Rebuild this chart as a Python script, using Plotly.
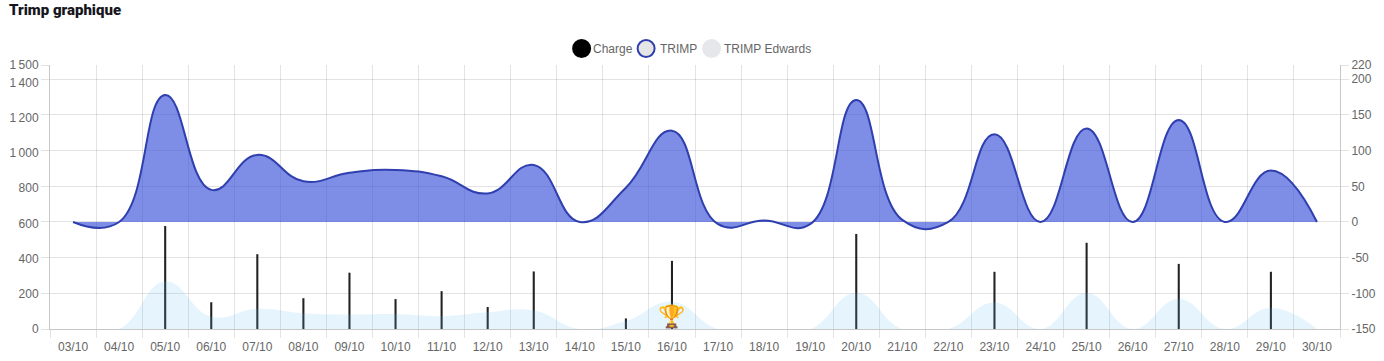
import plotly.graph_objects as go

days = ["03/10","04/10","05/10","06/10","07/10","08/10","09/10","10/10","11/10","12/10","13/10","14/10","15/10","16/10",
        "17/10","18/10","19/10","20/10","21/10","22/10","23/10","24/10","25/10","26/10","27/10","28/10","29/10","30/10"]
charge = [0,0,585,152,425,175,320,170,215,125,327,0,60,387,0,0,0,540,0,0,325,0,490,0,370,0,325,0]
trimp = [0,0,178,45,94,57,69,73,64,40,80,0,48,128,-3,2,-3,171,3,0,123,0,131,0,143,0,72,0]
edwards = [0,0,270,70,115,90,83,85,73,95,105,0,45,155,0,0,0,205,0,0,150,0,205,0,170,0,120,0]
left_ticks = [0,200,400,600,800,1000,1200,1400,1500]
left_labels = ["0","200","400","600","800","1\u202f000","1\u202f200","1\u202f400","1\u202f500"]
right_ticks = [-150,-100,-50,0,50,100,150,200,220]

W, H = 1384, 361
L, R, T, B = 50.3, 1340.5, 65, 329
GRID = "rgba(0,0,0,0.11)"
AXIS = "rgba(0,0,0,0.22)"
TXT = "#666666"
FONT = "Liberation Sans"

def px(x): return (x - L) / (R - L)
def py(y): return (B - y) / (B - T)

grid_on_left = [(v + 150) / 370 * 1500 for v in right_ticks]

fig = go.Figure()
fig.add_bar(x=days, y=charge, name="Charge", marker=dict(color="#222222", line_width=0), width=0.045, yaxis="y")
fig.add_scatter(x=days, y=edwards, name="TRIMP Edwards", mode="lines", line=dict(width=0, shape="spline", smoothing=1.3),
                fill="tozeroy", fillcolor="rgba(100,190,245,0.16)", yaxis="y")
fig.add_scatter(x=days, y=trimp, name="TRIMP", mode="lines", line=dict(color="#2f3fae", width=2, shape="spline", smoothing=1.3),
                fill="tozeroy", fillcolor="rgba(50,75,215,0.63)", yaxis="y2")
fig.add_scatter(x=["16/10"], y=[60], mode="text", text=["🏆"], textfont=dict(size=22), textposition="middle center",
                yaxis="y", showlegend=False, hoverinfo="skip")

shapes = []
for cx, fill, line in [(582, "#000000", "#000000"), (646.5, "#e5e5e5", "#2f3fae"), (712, "#e5e7ea", "#e5e7ea")]:
    shapes.append(dict(type="circle", xref="paper", yref="paper", xsizemode="pixel", ysizemode="pixel",
                       xanchor=px(cx), yanchor=py(48.5), x0=-8.5, x1=8.5, y0=-8.5, y1=8.5,
                       fillcolor=fill, line=dict(color=line, width=2)))
annotations = [
    dict(text="Trimp graphique", xref="paper", yref="paper", x=px(7), y=py(9.5), xanchor="left", yanchor="middle",
         showarrow=False, font=dict(family="Roboto", size=15, weight=900, color="#16161d")),
]
for x0, label in [(593.5, "Charge"), (660, "TRIMP"), (724.5, "TRIMP Edwards")]:
    annotations.append(dict(text=label, xref="paper", yref="paper", x=px(x0), y=py(48.5), xanchor="left", yanchor="middle",
                            showarrow=False, borderpad=0, borderwidth=0,
                            font=dict(family=FONT, size=12, color=TXT)))

fig.update_layout(
    width=W, height=H, margin=dict(l=L, r=W - R, t=T, b=H - B, pad=0, autoexpand=False),
    paper_bgcolor="white", plot_bgcolor="white", showlegend=False, barmode="overlay",
    font=dict(family=FONT, size=12, color=TXT),
    shapes=shapes, annotations=annotations,
    xaxis=dict(type="category", categoryorder="array", categoryarray=days, range=[-0.5, 27.5],
               tickson="boundaries", ticks="outside", ticklen=8, tickcolor=GRID, showgrid=True, gridcolor=GRID, gridwidth=1,
               showline=True, linecolor=AXIS, tickangle=0, tickfont=dict(size=12, color=TXT), zeroline=False,
               ticklabelstandoff=7),
    yaxis=dict(range=[0, 1500], tickmode="array", tickvals=left_ticks, ticktext=left_labels, showgrid=False, zeroline=False,
               ticks="outside", ticklen=8, tickcolor="rgba(0,0,0,0)", showline=True, linecolor=AXIS, tickfont=dict(size=12, color=TXT),
               minor=dict(tickmode="array", tickvals=grid_on_left, ticks="outside", ticklen=8, tickcolor=GRID, showgrid=False)),
    yaxis2=dict(range=[-150, 220], overlaying="y", side="right", tickmode="array", tickvals=right_ticks, ticktext=[str(v) for v in right_ticks],
                showgrid=True, gridcolor=GRID, zeroline=False, ticks="outside", ticklen=8, tickcolor=GRID,
                showline=True, linecolor=AXIS, tickfont=dict(size=12, color=TXT)),
)
fig.write_html("out.html", post_script="document.body.style.margin='0';", config={"displayModeBar": False})
